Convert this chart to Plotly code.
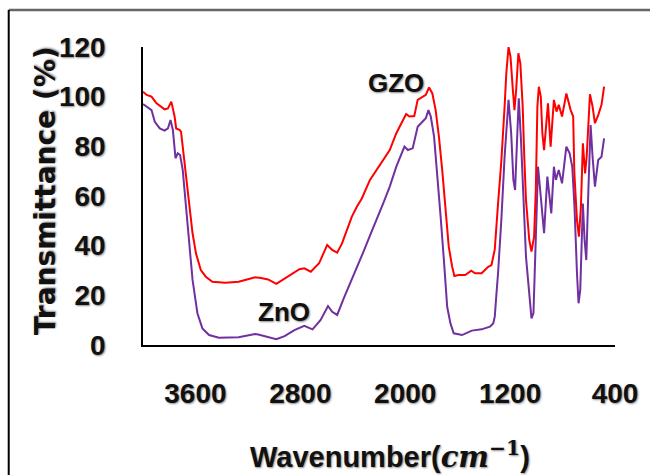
import plotly.graph_objects as go

# GZO (red) spectrum
gzo_wn = [4000, 3972, 3935, 3897, 3835, 3810, 3784, 3759, 3747, 3722, 3710, 3697, 3672, 3647, 3622,
          3596, 3559, 3521, 3471, 3371, 3271, 3200, 3145, 3100, 3046, 2983, 2933, 2870, 2807, 2770,
          2720, 2657, 2595, 2557, 2519, 2482, 2444, 2407, 2369, 2331, 2269, 2219, 2168, 2118, 2068,
          2018, 1993, 1968, 1931, 1905, 1868, 1843, 1818, 1793, 1768, 1743, 1718, 1693, 1668, 1642,
          1625, 1593, 1542, 1497, 1467, 1417, 1367, 1342, 1317, 1292, 1267, 1242, 1229, 1212, 1197,
          1179, 1167, 1154, 1137, 1122, 1104, 1092, 1079, 1054, 1037, 1017, 1004, 992, 981, 966,
          954, 941, 911, 891, 866, 846, 829, 804, 771, 738, 719, 710, 690, 675, 660, 645,
          628, 616, 603, 591, 571, 553, 528, 503, 483]
gzo_t = [102, 100.7, 100, 97.3, 94.9, 95.3, 98, 92, 87.2, 86.6, 85.9, 79.9, 67.8, 55.7, 45,
         36.9, 30.2, 27.5, 25.5, 25.1, 25.5, 26.5, 27.3, 27, 26.4, 24.6, 26.2, 28.2, 30.5, 30.9,
         29.5, 32.9, 40.3, 38.3, 37.2, 40.9, 46.3, 51.7, 55.7, 59, 66.5, 70.5, 74.5, 78.5, 85.3,
         90.6, 93, 92, 92.2, 98.7, 99.7, 100.7, 103.7, 101.3, 94.6, 83.9, 70.5, 55.7, 39.6, 31.5,
         27.8, 28.2, 28.2, 29.9, 28.9, 28.9, 31.5, 32.2, 38.5, 57, 74, 96, 109.4, 120, 116.1,
         102.7, 94.6, 102.7, 117.5, 113.4, 96, 75.8, 58.4, 42.3, 37.6, 43.6, 62.4, 96, 104, 100,
         85.3, 78.5, 97.3, 79.9, 98.7, 94, 96.7, 92, 101.3, 94.6, 92, 69.1, 50.3, 43.6, 55.7, 81.2,
         69.1, 75.8, 89.3, 101, 96, 89.3, 92.6, 96.7, 104]

# ZnO (purple) spectrum
zno_wn = [4000, 3935, 3910, 3872, 3835, 3810, 3790, 3772, 3752, 3735, 3717, 3697, 3672, 3647, 3622,
          3585, 3547, 3496, 3421, 3271, 3145, 3121, 3046, 2983, 2920, 2845, 2770, 2707, 2645, 2589,
          2557, 2519, 2469, 2419, 2369, 2319, 2269, 2219, 2168, 2118, 2068, 2006, 1980, 1943, 1905,
          1880, 1843, 1823, 1805, 1780, 1755, 1730, 1705, 1680, 1655, 1630, 1567, 1492, 1417, 1354,
          1329, 1317, 1304, 1292, 1267, 1242, 1212, 1192, 1175, 1162, 1147, 1134, 1117, 1097, 1079,
          1054, 1037, 1022, 1004, 987, 966, 941, 916, 904, 886, 866, 851, 829, 804, 771, 746,
          726, 709, 690, 678, 665, 645, 632, 619, 603, 586, 571, 553, 528, 503, 483]
zno_t = [97, 94.6, 89.9, 87.2, 86.3, 87.2, 90.6, 86.6, 75.2, 77.2, 76.5, 70.5, 55.7, 39.6, 26.2,
         12.8, 6.7, 4, 2.9, 3.1, 4.4, 4.2, 3.3, 2.3, 3.6, 6, 7.7, 6.3, 10.1, 15.7,
         13.4, 12.1, 18.8, 24.8, 31.5, 37.5, 44, 50.3, 57, 63.8, 71.8, 79.9, 78.5, 79.2, 87.9,
         89.3, 91.3, 94.6, 92, 83.9, 69.1, 51.7, 34.2, 15.4, 8.7, 4.7, 4, 5.8, 6.3, 7.4,
         8.7, 11.4, 20.8, 28.9, 50.3, 75.8, 98.7, 85.3, 66.5, 62.4, 82.6, 99.3, 82.6, 55.7, 35.6,
         20.8, 10.7, 12.8, 42.3, 71.8, 59.7, 45, 67.8, 62.4, 53, 71.8, 66.5, 70.5, 65.1, 79.9, 77.2,
         71.8, 55.7, 28.9, 16.8, 22.2, 57, 42.3, 34.2, 62.4, 88.6, 75.8, 63.8, 74.5, 75.8, 83.2]

x_ticks = [3600, 2800, 2000, 1200, 400]
y_ticks = [0, 20, 40, 60, 80, 100, 120]

SHADOW = "1px 1px 2px rgba(0,0,0,0.45)"
SANS = "Liberation Sans, Arial, sans-serif"

fig = go.Figure()
fig.add_trace(go.Scatter(x=zno_wn, y=zno_t, mode="lines", name="ZnO",
                         line=dict(color="#7030A0", width=2)))
fig.add_trace(go.Scatter(x=gzo_wn, y=gzo_t, mode="lines", name="GZO",
                         line=dict(color="#FF0000", width=2)))

fig.update_layout(
    width=650, height=475,
    margin=dict(l=143, r=29, t=47, b=130),
    paper_bgcolor="white", plot_bgcolor="white",
    showlegend=False,
    xaxis=dict(range=[4000, 400], tickvals=x_ticks, ticktext=[str(v) for v in x_ticks],
               showgrid=False, zeroline=False, showline=True, linecolor="black", linewidth=2,
               ticks="", ticklabelstandoff=22,
               tickfont=dict(family=SANS, size=28, weight="bold", color="#111", shadow=SHADOW)),
    yaxis=dict(range=[0, 120], tickvals=y_ticks, ticktext=[str(v) for v in y_ticks],
               showgrid=False, zeroline=False, showline=True, linecolor="black", linewidth=1.5,
               ticks="", ticklabelstandoff=30,
               tickfont=dict(family=SANS, size=28, weight="bold", color="#111", shadow=SHADOW)),
)

fig.add_annotation(text="Transmittance (%)", xref="paper", yref="paper",
                   x=-0.205, y=0.517, textangle=-90, showarrow=False,
                   xanchor="center", yanchor="middle",
                   font=dict(family="DejaVu Sans, sans-serif", size=28, weight="bold",
                             color="#111", shadow=SHADOW))
fig.add_annotation(text="Wavenumber(<span style='font-family:DejaVu Serif'><i>cm</i></span>"
                        "<span style='font-family:DejaVu Serif'><sup>−1</sup></span>)",
                   xref="paper", yref="paper", x=0.523, y=-0.369, showarrow=False,
                   xanchor="center", yanchor="middle",
                   font=dict(family=SANS, size=29, weight="bold", color="#111", shadow=SHADOW))
fig.add_annotation(text="GZO", x=2072, y=105.5, xref="x", yref="y", showarrow=False,
                   font=dict(family=SANS, size=26, weight="bold", color="#111", shadow=SHADOW))
fig.add_annotation(text="ZnO", x=2923, y=13.3, xref="x", yref="y", showarrow=False,
                   font=dict(family=SANS, size=26, weight="bold", color="#111", shadow=SHADOW))

# outer frame lines
fig.add_shape(type="line", xref="paper", yref="paper", x0=-0.2845, x1=1.2, y0=1.124, y1=1.124,
              line=dict(color="#666666", width=2.5))
fig.add_shape(type="line", xref="paper", yref="paper", x0=-0.2845, x1=-0.2845, y0=-0.6, y1=1.124,
              line=dict(color="black", width=2))

fig.write_html("out.html", config={"displayModeBar": False},
               post_script="document.body.style.margin='0';document.body.style.padding='0';")
